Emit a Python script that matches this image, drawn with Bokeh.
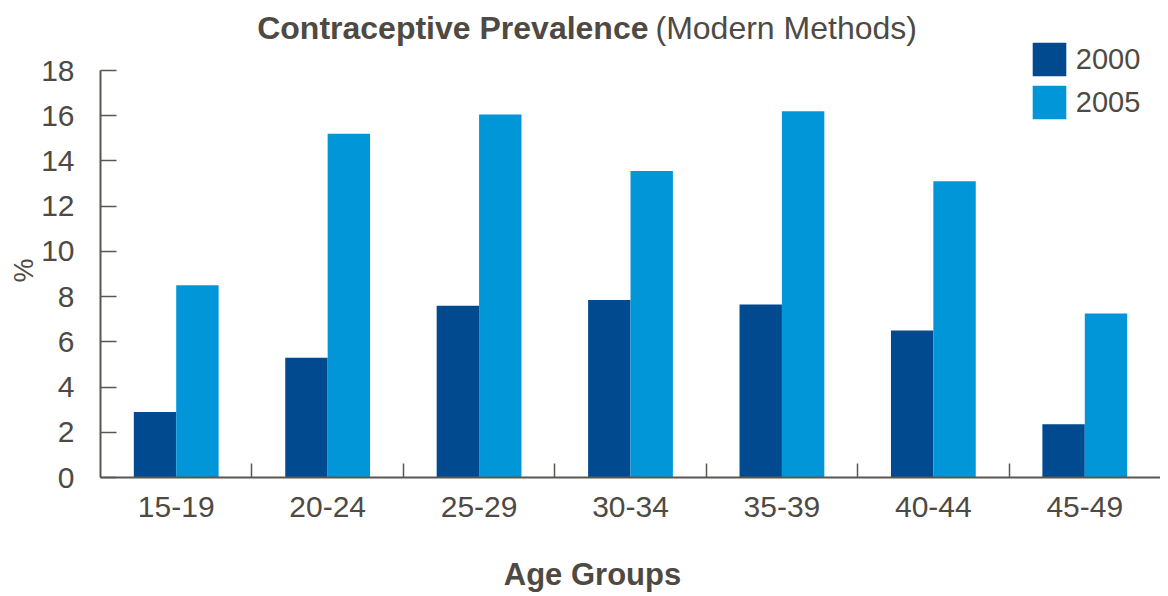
from bokeh.plotting import figure
from bokeh.models import (ColumnDataSource, Range1d, FixedTicker, Legend, LegendItem, Label, LinearAxis)
from bokeh.transform import dodge
from bokeh.embed import file_html
from bokeh.resources import INLINE

age_groups = ["15-19", "20-24", "25-29", "30-34", "35-39", "40-44", "45-49"]
y2000 = [2.9, 5.3, 7.6, 7.85, 7.65, 6.5, 2.35]
y2005 = [8.5, 15.2, 16.05, 13.55, 16.2, 13.1, 7.25]
y_ticks = [0, 2, 4, 6, 8, 10, 12, 14, 16, 18]
series_labels = ["2000", "2005"]

DARK = "#014a8f"
LIGHT = "#0096d8"
TEXT = "#4e4a43"
AXIS = "#5a5750"
FONT = "Liberation Sans"

# layout (pixels)
W, H = 1160, 596
FRAME_L, FRAME_B = 100, 477
Y18_PX = 70
y_max = y_ticks[-1]
y_end = y_max * FRAME_B / (FRAME_B - Y18_PX)   # frame extends above 18 to hold title & legend
px_per_x = (W - FRAME_L) / len(age_groups)
px_per_y = FRAME_B / y_end

xs = [i + 0.5 for i in range(len(age_groups))]
src = ColumnDataSource(dict(x=xs, a=y2000, b=y2005))

p = figure(width=W, height=H, output_backend="svg", toolbar_location=None,
           x_range=Range1d(0, len(age_groups)), y_range=Range1d(0, y_end),
           min_border_left=FRAME_L, min_border_right=0, min_border_top=0,
           min_border_bottom=H - FRAME_B)
p.outline_line_color = None
p.xgrid.visible = False
p.ygrid.visible = False

r1 = p.vbar(x=dodge("x", -0.14), top="a", width=0.28, source=src, color=DARK, line_color=None)
r2 = p.vbar(x=dodge("x", 0.14), top="b", width=0.28, source=src, color=LIGHT, line_color=None)

# x axis with category labels and inward boundary ticks
xa = p.xaxis[0]
xa.ticker = FixedTicker(ticks=xs, minor_ticks=list(range(1, len(age_groups))))
xa.major_label_overrides = {x: lab for x, lab in zip(xs, age_groups)}
xa.major_tick_in = 0
xa.major_tick_out = 0
xa.minor_tick_in = 14
xa.minor_tick_out = 0
xa.minor_tick_line_color = AXIS
xa.minor_tick_line_width = 1.5
xa.axis_line_color = AXIS
xa.axis_line_width = 2
xa.major_label_text_font = FONT
xa.major_label_text_font_size = "30px"
xa.major_label_text_color = TEXT
xa.major_label_standoff = 19

# second axis below carrying only the axis title
x_title_pos = (592 - FRAME_L) / px_per_x
xa2 = LinearAxis(ticker=FixedTicker(ticks=[x_title_pos], minor_ticks=[]),
                 major_label_overrides={x_title_pos: "Age Groups"},
                 axis_line_color=None, major_tick_line_color=None, minor_tick_line_color=None,
                 major_tick_in=0, major_tick_out=0,
                 major_label_text_font=FONT, major_label_text_font_style="bold",
                 major_label_text_font_size="31px", major_label_text_color=TEXT,
                 major_label_standoff=37)
p.add_layout(xa2, "below")

# y axis
ya = p.yaxis[0]
ya.ticker = FixedTicker(ticks=y_ticks, minor_ticks=[])
ya.bounds = (0, y_max)
ya.major_tick_in = 16
ya.major_tick_out = 0
ya.major_tick_line_color = AXIS
ya.major_tick_line_width = 1.5
ya.axis_line_color = AXIS
ya.axis_line_width = 2
ya.major_label_text_font = FONT
ya.major_label_text_font_size = "30px"
ya.major_label_text_color = TEXT
ya.major_label_standoff = 26

# second axis left carrying only "%"
y_title_pos = (FRAME_B - 270) / px_per_y
ya2 = LinearAxis(ticker=FixedTicker(ticks=[y_title_pos], minor_ticks=[]),
                 major_label_overrides={y_title_pos: "%"},
                 major_label_orientation="vertical",
                 axis_line_color=None, major_tick_line_color=None, minor_tick_line_color=None,
                 major_tick_in=0, major_tick_out=0,
                 major_label_text_font=FONT, major_label_text_font_size="27px",
                 major_label_text_color=TEXT, major_label_standoff=0)
p.add_layout(ya2, "left")

legend = Legend(items=[LegendItem(label=series_labels[0], renderers=[r1]),
                       LegendItem(label=series_labels[1], renderers=[r2])],
                location=(927.8, 353.8), glyph_width=42, glyph_height=42, label_height=42,
                spacing=1, padding=0, margin=0, label_standoff=6,
                border_line_color=None, background_fill_alpha=0,
                label_text_font=FONT, label_text_font_size="29px", label_text_color=TEXT)
p.add_layout(legend)

p.add_layout(Label(x=548, y=FRAME_B - 27, x_units="screen", y_units="screen",
                   text="Contraceptive Prevalence", text_align="right", text_baseline="alphabetic",
                   text_font=FONT, text_font_style="bold", text_font_size="32px", text_color=TEXT))
p.add_layout(Label(x=555, y=FRAME_B - 27, x_units="screen", y_units="screen",
                   text="(Modern Methods)", text_align="left", text_baseline="alphabetic",
                   text_font=FONT, text_font_size="32px", text_color=TEXT))

open("out.html", "w").write(file_html(p, INLINE))
